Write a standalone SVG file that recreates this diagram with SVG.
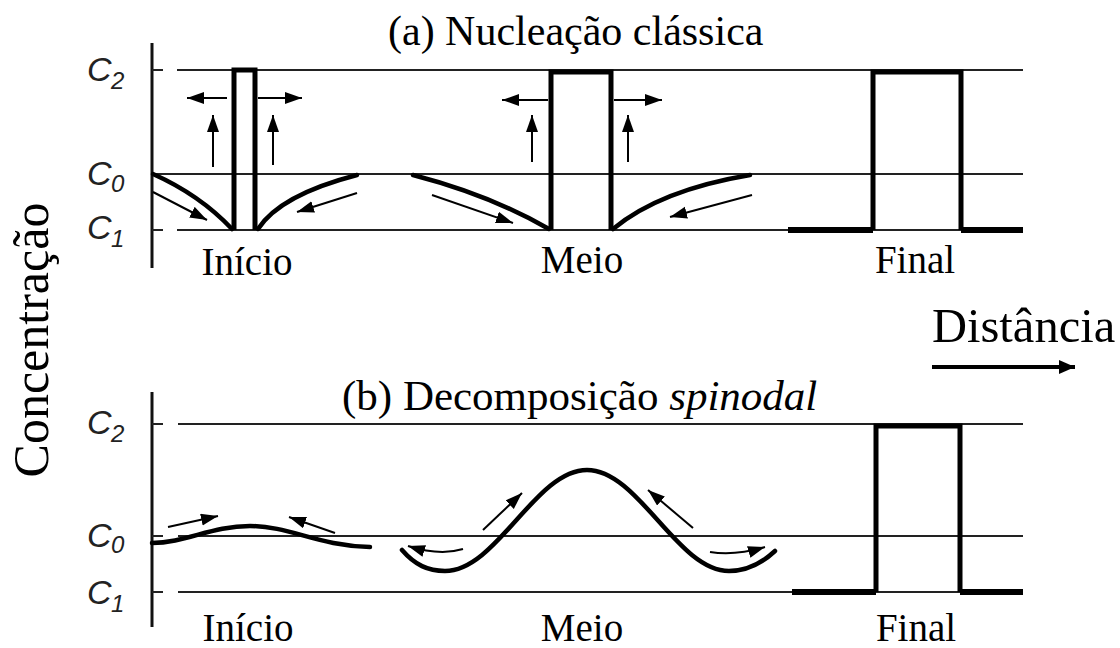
<svg xmlns="http://www.w3.org/2000/svg" width="1120" height="648" viewBox="0 0 1120 648">
<style>
.t{font-family:"Liberation Serif","Times New Roman",serif;fill:#000}
.c{font-family:"Liberation Sans",Arial,sans-serif;font-style:italic;fill:#222}
.ax{stroke:#111;stroke-width:3;fill:none}
.ln{stroke:#222;stroke-width:2;fill:none}
.th{stroke:#000;stroke-width:5;fill:none;stroke-linejoin:miter}
.cv{stroke:#000;stroke-width:4.5;fill:none;stroke-linecap:round}
.ar{stroke:#000;stroke-width:2;fill:none;marker-end:url(#ah)}
</style>
<defs>
<marker id="ah" markerUnits="userSpaceOnUse" markerWidth="20" markerHeight="14" refX="17" refY="6" orient="auto">
<path d="M0,0 L17,6 L0,12 Z" fill="#000"/>
</marker>
<marker id="ah2" markerUnits="userSpaceOnUse" markerWidth="20" markerHeight="16" refX="16" refY="7" orient="auto">
<path d="M0,0 L16,7 L0,14 Z" fill="#000"/>
</marker>
</defs>
<rect width="1120" height="648" fill="#fff"/>

<!-- axis labels -->
<g id="ylabel"><text class="t" font-size="50" transform="translate(48,340) rotate(-90)" text-anchor="middle">Concentração</text></g>
<g id="xlabel">
<text class="t" x="932" y="342" font-size="48.5">Distância</text>
<line x1="932" y1="367" x2="1075" y2="367" stroke="#000" stroke-width="4" marker-end="url(#ah2)"/>
</g>

<!-- panel a -->
<g id="panel-a">
<text class="t" x="388" y="45" font-size="42">(a) Nucleação clássica</text>
<line class="ax" x1="152" y1="43" x2="152" y2="268"/>
<g id="grid-a">
<path class="ln" d="M152,70 H163 M177,70 H1023"/>
<path class="ln" d="M152,174 H1023"/>
<path class="ln" d="M152,230 H163 M177,230 H1023"/>
</g>
<g id="clab-a">
<text class="c" x="87" y="81" font-size="34">C</text><text class="c" x="111" y="89" font-size="24" font-style="normal">2</text>
<text class="c" x="87" y="185" font-size="34">C</text><text class="c" x="111" y="192" font-size="24" font-style="normal">0</text>
<text class="c" x="87" y="239" font-size="34">C</text><text class="c" x="111" y="247" font-size="24" font-style="normal">1</text>
</g>
<g id="a-inicio">
<path class="th" d="M234,230 V70 H255 V230"/>
<path class="cv" d="M153,174 Q200,195 232,229"/>
<path class="cv" d="M258,229 Q280,195 357,175"/>
<text class="t" x="247" y="275" font-size="39" text-anchor="middle">Início</text>
</g>
<g id="a-meio">
<path class="th" d="M551,230 V72 H611 V230"/>
<path class="cv" d="M413,175 Q490,195 549,229"/>
<path class="cv" d="M613,229 Q660,190 750,175"/>
<text class="t" x="582" y="273" font-size="39" text-anchor="middle">Meio</text>
</g>
<g id="a-final">
<path class="th" d="M873,230 V72 H961 V230"/>
<path d="M788,230 H873 M961,230 H1023" stroke="#000" stroke-width="6" fill="none"/>
<text class="t" x="915" y="273" font-size="39" text-anchor="middle">Final</text>
</g>
</g>

<!-- panel b -->
<g id="panel-b">
<text class="t" x="342" y="410" font-size="43">(b) Decomposição <tspan font-style="italic">spinodal</tspan></text>
<line class="ax" x1="152" y1="392" x2="152" y2="627"/>
<g id="grid-b">
<path class="ln" d="M152,424 H163 M178,424 H1023"/>
<path class="ln" d="M152,536 H163 M178,536 H1023"/>
<path class="ln" d="M152,592 H163 M178,592 H1023"/>
</g>
<g id="clab-b">
<text class="c" x="87" y="434" font-size="34">C</text><text class="c" x="111" y="442" font-size="24" font-style="normal">2</text>
<text class="c" x="87" y="547" font-size="34">C</text><text class="c" x="111" y="553" font-size="24" font-style="normal">0</text>
<text class="c" x="87" y="604" font-size="34">C</text><text class="c" x="111" y="612" font-size="24" font-style="normal">1</text>
</g>
<g id="b-inicio">
<path class="cv" d="M152,543 C185,543 212,526 250,526 C290,526 318,546 370,547"/>
<text class="t" x="248" y="641" font-size="39" text-anchor="middle">Início</text>
</g>
<g id="b-meio">
<path class="cv" d="M402,550 C415,565 428,571 445,571 C496.7,571 535.3,470 587,470 C638.7,470 677.3,571 729,571 C746,571 760,565 775,551"/>
<text class="t" x="582" y="641" font-size="39" text-anchor="middle">Meio</text>
</g>
<g id="b-final">
<path class="th" d="M876,592 V426 H960 V592"/>
<path d="M792,592 H876 M960,592 H1023" stroke="#000" stroke-width="6" fill="none"/>
<text class="t" x="916" y="641" font-size="39" text-anchor="middle">Final</text>
</g>
</g>

<!-- connectors (flux arrows) -->
<g id="connectors">
<line class="ar" x1="227" y1="98" x2="187" y2="98"/>
<line class="ar" x1="258" y1="98" x2="302" y2="98"/>
<line class="ar" x1="213" y1="167" x2="213" y2="115"/>
<line class="ar" x1="273" y1="165" x2="273" y2="115"/>
<line class="ar" x1="153" y1="192" x2="207" y2="220"/>
<line class="ar" x1="357" y1="193" x2="297" y2="212"/>
<line class="ar" x1="548" y1="100" x2="502" y2="100"/>
<line class="ar" x1="614" y1="100" x2="662" y2="100"/>
<line class="ar" x1="532" y1="162" x2="532" y2="115"/>
<line class="ar" x1="628" y1="162" x2="628" y2="115"/>
<line class="ar" x1="432" y1="195" x2="513" y2="223"/>
<line class="ar" x1="752" y1="195" x2="670" y2="217"/>
<line class="ar" x1="168" y1="527" x2="218" y2="516"/>
<line class="ar" x1="335" y1="533" x2="289" y2="517"/>
<line class="ar" x1="483" y1="530" x2="522" y2="493"/>
<line class="ar" x1="693" y1="528" x2="648" y2="490"/>
<path class="ar" d="M463,549 Q440,556 408,546"/>
<path class="ar" d="M710,552 Q735,556 765,547"/>
</g>
</svg>
